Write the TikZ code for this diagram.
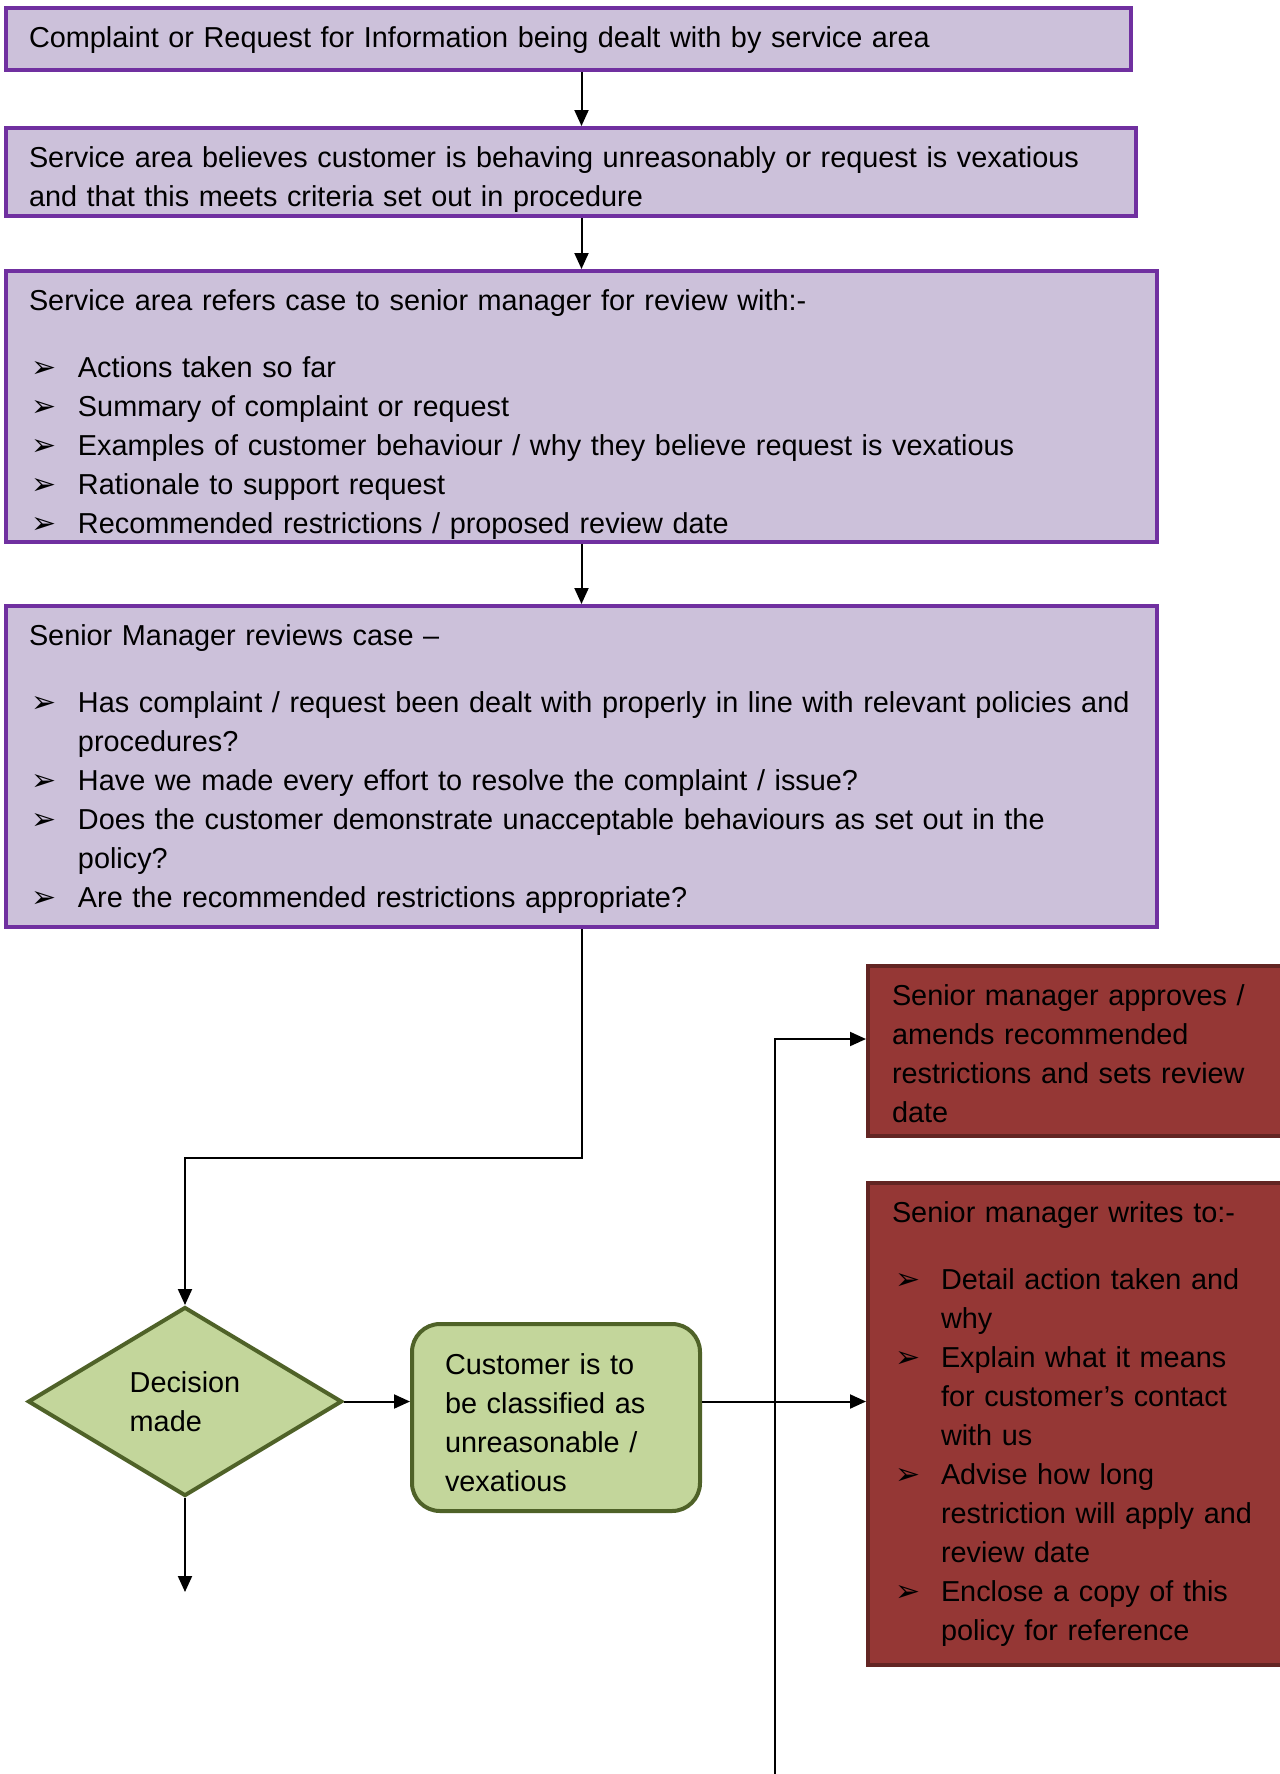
\documentclass[tikz,border=0pt]{standalone}
\usepackage{fontspec}
\setmainfont{Liberation Sans}
\newfontfamily\dingfont{DejaVu Sans}
\usetikzlibrary{arrows.meta,shapes.geometric}
\definecolor{lilac}{RGB}{204,193,218}
\definecolor{violet}{RGB}{112,48,160}
\definecolor{brick}{RGB}{149,55,53}
\definecolor{darkbrick}{RGB}{99,37,35}
\definecolor{sage}{RGB}{195,214,155}
\definecolor{olive}{RGB}{79,98,40}
\newcommand{\itm}[1]{\hspace*{1.5pt}\makebox[23pt][l]{\dingfont\fontsize{15}{15}\selectfont ➢}#1}
\newcommand{\cnt}{\hspace*{24.5pt}}
\begin{document}
\begin{tikzpicture}[x=0.5pt,y=-0.5pt,
  txt/.style={font=\fontsize{14.42}{19.5}\selectfont, align=left, inner ysep=0pt, text height=19.5pt},
  pbox/.style={txt, rectangle, draw=violet, fill=lilac, line width=2pt, inner xsep=11.5pt},
  rbox/.style={txt, rectangle, draw=darkbrick, fill=brick, line width=2pt, inner xsep=12pt},
  gbox/.style={txt, rectangle, rounded corners=14pt, draw=olive, fill=sage, line width=2pt, inner xsep=16.5pt, text height=25pt},
  gdiam/.style={font=\fontsize{14.42}{19.5}\selectfont, align=left, diamond, draw=olive, fill=sage, line width=2pt, inner sep=0pt},
  arr/.style={-{Triangle[length=8pt,width=7pt]}, line width=1pt}]
\clip (0,0) rectangle (1280,1774);

\node[pbox, text width=539.5pt, text depth=11.5pt] (start) at (568.5,39)
  {Complaint or Request for Information being dealt with by service area};
\node[pbox, text width=542pt, text depth=24.5pt] (believe) at (571,172)
  {Service area believes customer is behaving unreasonably or request is vexatious\\
   and that this meets criteria set out in procedure};
\node[pbox, text width=552.5pt, text depth=116pt] (refer) at (581.5,406.5)
  {Service area refers case to senior manager for review with:-\\[14pt]
   \itm{Actions taken so far}\\
   \itm{Summary of complaint or request}\\
   \itm{Examples of customer behaviour / why they believe request is vexatious}\\
   \itm{Rationale to support request}\\
   \itm{Recommended restrictions / proposed review date}};
\node[pbox, text width=552.5pt, text depth=141pt] (review) at (581.5,766.5)
  {Senior Manager reviews case –\\[14pt]
   \itm{Has complaint / request been dealt with properly in line with relevant policies and}\\
   \cnt procedures?\\
   \itm{Have we made every effort to resolve the complaint / issue?}\\
   \itm{Does the customer demonstrate unacceptable behaviours as set out in the}\\
   \cnt policy?\\
   \itm{Are the recommended restrictions appropriate?}};

\node[rbox, text width=192pt, text depth=65.5pt] (approve) at (1084,1051)
  {Senior manager approves /\\amends recommended\\restrictions and sets review\\date};
\node[rbox, text width=192pt, text depth=221.5pt] (writes) at (1084,1424)
  {Senior manager writes to:-\\[14pt]
   \itm{Detail action taken and}\\
   \cnt why\\
   \itm{Explain what it means}\\
   \cnt for customer’s contact\\
   \cnt with us\\
   \itm{Advise how long}\\
   \cnt restriction will apply and\\
   \cnt review date\\
   \itm{Enclose a copy of this}\\
   \cnt policy for reference};

\node[gdiam, minimum width=157pt, minimum height=94.5pt] (decision) at (185,1401.5)
  {Decision\\made};
\node[gbox, text width=111pt, text depth=68.5pt] (class) at (556,1417.5)
  {Customer is to\\be classified as\\unreasonable /\\vexatious};

\coordinate (elbow) at (185,1158);
\coordinate (nextstep) at (185,1592);
\coordinate (loopin) at (775,1800);

\draw[arr] (start.south -| review.north) -- (believe.north -| review.north);
\draw[arr] (believe.south -| review.north) -- (refer.north);
\draw[arr] (refer.south) -- (review.north);
\draw[arr] (review.south) |- (elbow) -- (decision.north);
\draw[arr] (decision.east) -- (decision.east -| class.west);
\draw[arr] (decision.south) -- (nextstep);
\draw[arr] (decision.east -| class.east) -- (decision.east -| writes.west);
\draw[arr] (loopin) |- ([yshift=6pt]approve.west);
\end{tikzpicture}
\end{document}
